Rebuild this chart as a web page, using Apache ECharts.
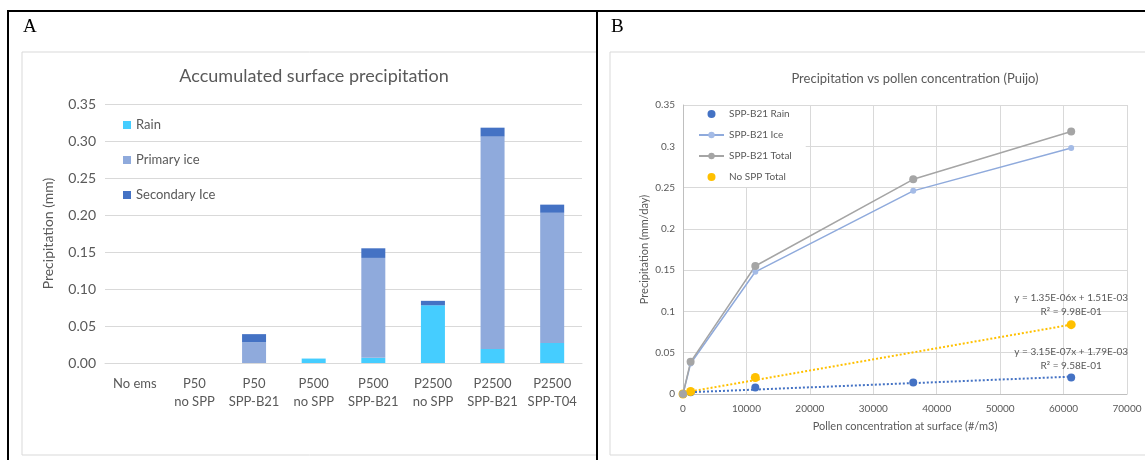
<!DOCTYPE html>
<html>
<head>
<meta charset="utf-8">
<script src="https://cdn.jsdelivr.net/npm/echarts@6/dist/echarts.min.js"></script>
<style>
  html, body { margin: 0; padding: 0; background: #fff; }
  #chart { width: 1145px; height: 460px; }
</style>
</head>
<body>
<div id="chart"></div>
<script>
// panel A: stacked bars
const categories = ['No ems', 'P50\nno SPP', 'P50\nSPP-B21', 'P500\nno SPP', 'P500\nSPP-B21', 'P2500\nno SPP', 'P2500\nSPP-B21', 'P2500\nSPP-T04']
const rain = [0, 0, 0, 0.006, 0.007, 0.078, 0.019, 0.027]
const primaryIce = [0, 0, 0.028, 0, 0.135, 0, 0.287, 0.176]
const secondaryIce = [0, 0, 0.011, 0, 0.013, 0.006, 0.012, 0.011]

// panel B: precipitation vs pollen
const pollen = [0, 1200, 11400, 36300, 61200]
const b21Rain = [0, 0.002, 0.008, 0.014, 0.020]
const b21Ice = [0, 0.037, 0.148, 0.246, 0.298]
const b21Total = [0, 0.039, 0.155, 0.260, 0.318]
const pollenNoSpp = [0, 1200, 11400, 61200]
const noSppTotal = [0, 0.003, 0.020, 0.084]

// trendline ends
const trendX = [0, 61200]
const noSppTrend = [0.0015, 0.084]
const rainTrend = [0.0018, 0.021]
const noSppTrendText = 'y = 1.35E-06x + 1.51E-03\nR² = 9.98E-01'
const rainTrendText = 'y = 3.15E-07x + 1.79E-03\nR² = 9.58E-01'

const pairs = (xs, ys) => xs.map((x, i) => [x, ys[i]])

const font = 'Lato, "Open Sans", sans-serif'
const grey = '#595959'
const gridGrey = '#D9D9D9'

const chart = echarts.init(document.getElementById('chart'))

chart.setOption({
  animation: false,
  textStyle: { fontFamily: font },
  title: [
    {
      text: 'Accumulated surface precipitation',
      left: 309,
      top: 62,
      textAlign: 'center',
      textStyle: { fontSize: 18, fontWeight: 'normal', color: grey, fontFamily: font },
    },
    {
      text: 'Precipitation vs pollen concentration (Puijo)',
      left: 910,
      top: 67,
      textAlign: 'center',
      textStyle: { fontSize: 13, fontWeight: 'normal', color: grey, fontFamily: font },
    },
  ],
  legend: [
    {
      data: ['Rain', 'Primary ice', 'Secondary Ice'],
      orient: 'vertical',
      left: 118,
      top: 112,
      itemWidth: 8,
      itemHeight: 8,
      itemGap: 19,
      icon: 'rect',
      textStyle: { fontSize: 13, color: grey, lineHeight: 16 },
    },
    {
      data: ['SPP-B21 Rain', 'SPP-B21 Ice', 'SPP-B21 Total', 'No SPP Total'],
      orient: 'vertical',
      left: 684,
      top: 106,
      padding: [2, 14, 4, 14],
      backgroundColor: '#fff',
      itemWidth: 25,
      itemHeight: 8,
      itemGap: 9,
      textStyle: { fontSize: 10, color: grey, lineHeight: 12 },
    },
  ],
  grid: [
    { left: 105, right: 563, top: 104, bottom: 97 },
    { left: 683, width: 444, top: 105, bottom: 66 },
  ],
  xAxis: [
    {
      gridIndex: 0,
      type: 'category',
      data: categories,
      axisLine: { lineStyle: { color: gridGrey } },
      axisTick: { show: false },
      axisLabel: { interval: 0, fontSize: 13, color: grey, lineHeight: 18, margin: 12 },
    },
    {
      gridIndex: 1,
      type: 'value',
      min: 0,
      max: 70000,
      interval: 10000,
      name: 'Pollen concentration at surface (#/m3)',
      nameLocation: 'middle',
      nameGap: 27,
      nameTextStyle: { fontSize: 11, color: grey },
      axisLine: { lineStyle: { color: '#BFBFBF' } },
      axisTick: { show: false },
      axisLabel: { fontSize: 10, color: grey, margin: 10, formatter: (v) => String(v) },
      splitLine: { show: true, lineStyle: { color: gridGrey } },
    },
  ],
  yAxis: [
    {
      gridIndex: 0,
      type: 'value',
      min: 0,
      max: 0.35,
      interval: 0.05,
      name: 'Precipitation (mm)',
      nameLocation: 'middle',
      nameGap: 50,
      nameTextStyle: { fontSize: 14, color: grey },
      axisLine: { show: false },
      axisTick: { show: false },
      axisLabel: { fontSize: 14, color: grey, margin: 9, formatter: (v) => v.toFixed(2) },
      splitLine: { lineStyle: { color: gridGrey } },
    },
    {
      gridIndex: 1,
      type: 'value',
      min: 0,
      max: 0.35,
      interval: 0.05,
      name: 'Precipitation (mm/day)',
      nameLocation: 'middle',
      nameGap: 33,
      nameTextStyle: { fontSize: 11, color: grey },
      axisLine: { show: true, lineStyle: { color: '#BFBFBF' } },
      axisTick: { show: false },
      axisLabel: { fontSize: 10, color: grey, margin: 8 },
      splitLine: { lineStyle: { color: gridGrey } },
    },
  ],
  series: [
    {
      name: 'Rain', type: 'bar', stack: 'a', xAxisIndex: 0, yAxisIndex: 0,
      barWidth: 24, data: rain, itemStyle: { color: '#45CDFF' },
    },
    {
      name: 'Primary ice', type: 'bar', stack: 'a', xAxisIndex: 0, yAxisIndex: 0,
      barWidth: 24, data: primaryIce, itemStyle: { color: '#8FAADC' },
    },
    {
      name: 'Secondary Ice', type: 'bar', stack: 'a', xAxisIndex: 0, yAxisIndex: 0,
      barWidth: 24, data: secondaryIce, itemStyle: { color: '#4472C4' },
    },
    // trendlines
    {
      name: 'noSppTrend', type: 'line', xAxisIndex: 1, yAxisIndex: 1,
      data: pairs(trendX, noSppTrend), symbol: 'none', z: 1,
      lineStyle: { color: '#FFC000', width: 2, type: 'dotted' },
      markPoint: {
        symbol: 'circle', symbolSize: 0,
        data: [{ coord: [trendX[1], noSppTrend[1]] }],
        label: {
          show: true, position: 'inside', offset: [0, -20], formatter: noSppTrendText,
          fontSize: 10, color: grey, lineHeight: 14, align: 'center',
        },
      },
    },
    {
      name: 'rainTrend', type: 'line', xAxisIndex: 1, yAxisIndex: 1,
      data: pairs(trendX, rainTrend), symbol: 'none', z: 1,
      lineStyle: { color: '#4472C4', width: 2, type: 'dotted' },
      markPoint: {
        symbol: 'circle', symbolSize: 0,
        data: [{ coord: [trendX[1], rainTrend[1]] }],
        label: {
          show: true, position: 'inside', offset: [0, -18], formatter: rainTrendText,
          fontSize: 10, color: grey, lineHeight: 14, align: 'center',
        },
      },
    },
    {
      name: 'SPP-B21 Rain', type: 'scatter', xAxisIndex: 1, yAxisIndex: 1,
      data: pairs(pollen, b21Rain), symbolSize: 8, itemStyle: { color: '#4472C4', opacity: 1 },
    },
    {
      name: 'SPP-B21 Ice', type: 'line', xAxisIndex: 1, yAxisIndex: 1,
      data: pairs(pollen, b21Ice), symbol: 'circle', symbolSize: 6,
      itemStyle: { color: '#A4BBE6' }, lineStyle: { color: '#8FAADC', width: 1.5 },
    },
    {
      name: 'SPP-B21 Total', type: 'line', xAxisIndex: 1, yAxisIndex: 1,
      data: pairs(pollen, b21Total), symbol: 'circle', symbolSize: 8,
      itemStyle: { color: '#A5A5A5' }, lineStyle: { color: '#A5A5A5', width: 1.5 },
    },
    {
      name: 'No SPP Total', type: 'scatter', xAxisIndex: 1, yAxisIndex: 1,
      data: pairs(pollenNoSpp, noSppTotal), symbolSize: 9, itemStyle: { color: '#FFC000', opacity: 1 },
    },
  ],
  graphic: [
    { type: 'rect', shape: { x: 22, y: 52, width: 575, height: 403 }, style: { fill: null, stroke: gridGrey, lineWidth: 1 }, z: -1 },
    { type: 'rect', shape: { x: 610, y: 52, width: 560, height: 403 }, style: { fill: null, stroke: gridGrey, lineWidth: 1 }, z: -1 },
    { type: 'line', shape: { x1: 7, y1: 11, x2: 1145, y2: 11 }, style: { stroke: '#000', lineWidth: 2 } },
    { type: 'line', shape: { x1: 8, y1: 10, x2: 8, y2: 460 }, style: { stroke: '#000', lineWidth: 2 } },
    { type: 'line', shape: { x1: 597, y1: 10, x2: 597, y2: 460 }, style: { stroke: '#000', lineWidth: 2 } },
    { type: 'text', left: 23, top: 18, style: { text: 'A', font: '19px "Liberation Serif", serif', fill: '#000' } },
    { type: 'text', left: 611, top: 18, style: { text: 'B', font: '19px "Liberation Serif", serif', fill: '#000' } },
  ],
})
</script>
</body>
</html>
